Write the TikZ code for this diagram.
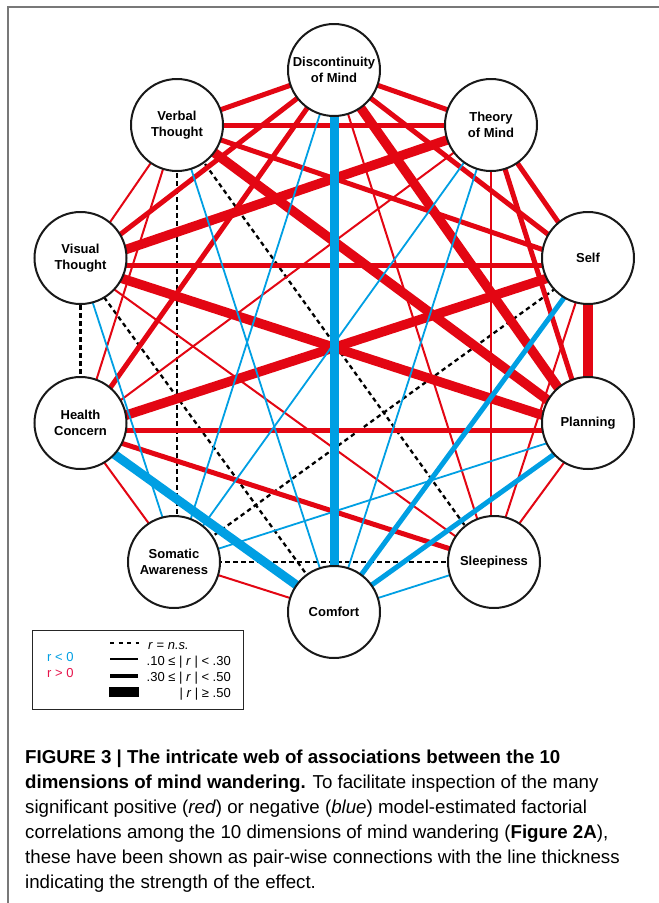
\documentclass[tikz,border=0pt]{standalone}
\usepackage{fontspec}
\setmainfont{Liberation Sans}
\pgfdeclarelayer{bg}
\pgfdeclarelayer{edgelayer}
\pgfsetlayers{bg,edgelayer,main}
\definecolor{wred}{RGB}{227,6,19}
\definecolor{wblue}{RGB}{0,159,227}
\definecolor{lred}{RGB}{230,20,75}
\definecolor{framegray}{RGB}{120,120,120}
\begin{document}
\begin{tikzpicture}[x=1pt,y=-1pt,
  nd/.style={circle, draw=black!90, line width=2pt, fill=white, minimum size=92pt, inner sep=0pt, align=center, font=\bfseries\fontsize{13}{16}\selectfont},
  p1/.style={wred, line width=2pt},
  p2/.style={wred, line width=5pt},
  p3/.style={wred, line width=9.5pt},
  n1/.style={wblue, line width=1.8pt},
  n2/.style={wblue, line width=5pt},
  n3/.style={wblue, line width=9pt},
  ns/.style={black, line width=2.3pt, dash pattern=on 4.5pt off 3.5pt},
  captxt/.style={anchor=base west, inner sep=0pt, font=\fontsize{18.7}{25}\selectfont},
  leg/.style={inner sep=0pt, font=\fontsize{13}{15}\selectfont}
]
\begin{pgfonlayer}{bg}
\fill[white] (0,0) rectangle (659,903);
\end{pgfonlayer}
\useasboundingbox (0,0) rectangle (659,903);
\draw[framegray, line width=1.5pt] (659,7) -- (8,7) -- (8,903);

% nodes
\node[nd] (dm) at (334,70) {Discontinuity\\of Mind};
\node[nd] (tm) at (491,125) {Theory\\of Mind};
\node[nd] (se) at (588,258) {Self};
\node[nd] (pl) at (588,423) {Planning};
\node[nd] (sl) at (494,562) {Sleepiness};
\node[nd] (co) at (334,612) {Comfort};
\node[nd] (sa) at (174,562) {Somatic\\Awareness};
\node[nd] (hc) at (80.5,423) {Health\\Concern};
\node[nd] (vi) at (80.5,258) {Visual\\Thought};
\node[nd] (vt) at (177,125) {Verbal\\Thought};

% line anchors
\coordinate (a-dm) at (dm.center);
\coordinate (a-tm) at (tm.center);
\coordinate (a-vt) at (vt.center);
\coordinate (a-co) at (co.center);
\coordinate (a-se) at ([yshift=-7pt]se.center);
\coordinate (a-pl) at ([yshift=-7pt]pl.center);
\coordinate (a-vi) at ([yshift=-7pt]vi.center);
\coordinate (a-hc) at ([yshift=-7pt]hc.center);
\coordinate (a-sa) at ([xshift=3pt]sa.center);
\coordinate (a-sl) at ([xshift=-3pt]sl.center);

\begin{pgfonlayer}{edgelayer}
\foreach \a/\b in {vt/sa, vt/sl, vi/hc, vi/co, se/sa, sa/sl}
  \draw[ns] (a-\a) -- (a-\b);
\foreach \a/\b in {dm/sl, vt/vi, vt/hc, vi/sl, tm/hc, tm/sl, se/sl, pl/sl, hc/sa, sa/co}
  \draw[p1] (a-\a) -- (a-\b);
\foreach \a/\b in {dm/tm, dm/vt, dm/vi, dm/se, dm/hc, vt/tm, vt/se, vi/se, hc/pl, hc/sl, tm/se, tm/pl}
  \draw[p2] (a-\a) -- (a-\b);
\foreach \a/\b in {dm/pl, vt/pl, vi/pl, vi/tm, hc/se, se/pl}
  \draw[p3] (a-\a) -- (a-\b);
\foreach \a/\b in {dm/sa, vt/co, vi/sa, tm/sa, tm/co, pl/sa, sl/co}
  \draw[n1] (a-\a) -- (a-\b);
\foreach \a/\b in {se/co, pl/co}
  \draw[n2] (a-\a) -- (a-\b);
\foreach \a/\b in {dm/co, hc/co}
  \draw[n3] (a-\a) -- (a-\b);
\end{pgfonlayer}

% legend
\node[draw=black!85, line width=1.3pt, minimum width=211pt, minimum height=79pt, inner sep=0pt, anchor=north west] (legbox) at (32,629.5) {};
\coordinate (l0a) at (110,643); \coordinate (l0b) at (139,643);
\coordinate (l1a) at (110,659); \coordinate (l1b) at (138,659);
\coordinate (l2a) at (110,676); \coordinate (l2b) at (138,676);
\coordinate (l3a) at (109,692); \coordinate (l3b) at (139,692);
\draw[black, line width=2pt, dash pattern=on 4pt off 4.5pt] (l0a) -- (l0b);
\draw[black, line width=2pt] (l1a) -- (l1b);
\draw[black, line width=4.5pt] (l2a) -- (l2b);
\draw[black, line width=9.5pt] (l3a) -- (l3b);
\node[leg, anchor=base west] (ln0) at (148,649) {\textit{r} = \textit{n.s.}};
\node[leg, anchor=base east] (ln1) at (231,665) {.10 ≤ | \textit{r} | < .30};
\node[leg, anchor=base east] (ln2) at (231,681) {.30 ≤ | \textit{r} | < .50};
\node[leg, anchor=base east] (ln3) at (231,697) {| \textit{r} | ≥ .50};
\node[leg, anchor=base west, text=wblue] (lneg) at (47,661) {r < 0};
\node[leg, anchor=base west, text=lred] (lpos) at (47,677) {r > 0};

% caption
\node[captxt, font=\bfseries\fontsize{18.7}{25}\selectfont] (c1) at (25,763) {FIGURE 3 | The intricate web of associations between the 10};
\node[captxt] (c2) at (25,788) {\textbf{dimensions of mind wandering.} To facilitate inspection of the many};
\node[captxt] (c3) at (25,813) {significant positive (\textit{red}) or negative (\textit{blue}) model-estimated factorial};
\node[captxt] (c4) at (25,838) {correlations among the 10 dimensions of mind wandering (\textbf{Figure 2A}),};
\node[captxt] (c5) at (25,863) {these have been shown as pair-wise connections with the line thickness};
\node[captxt] (c6) at (25,888) {indicating the strength of the effect.};
\end{tikzpicture}
\end{document}
